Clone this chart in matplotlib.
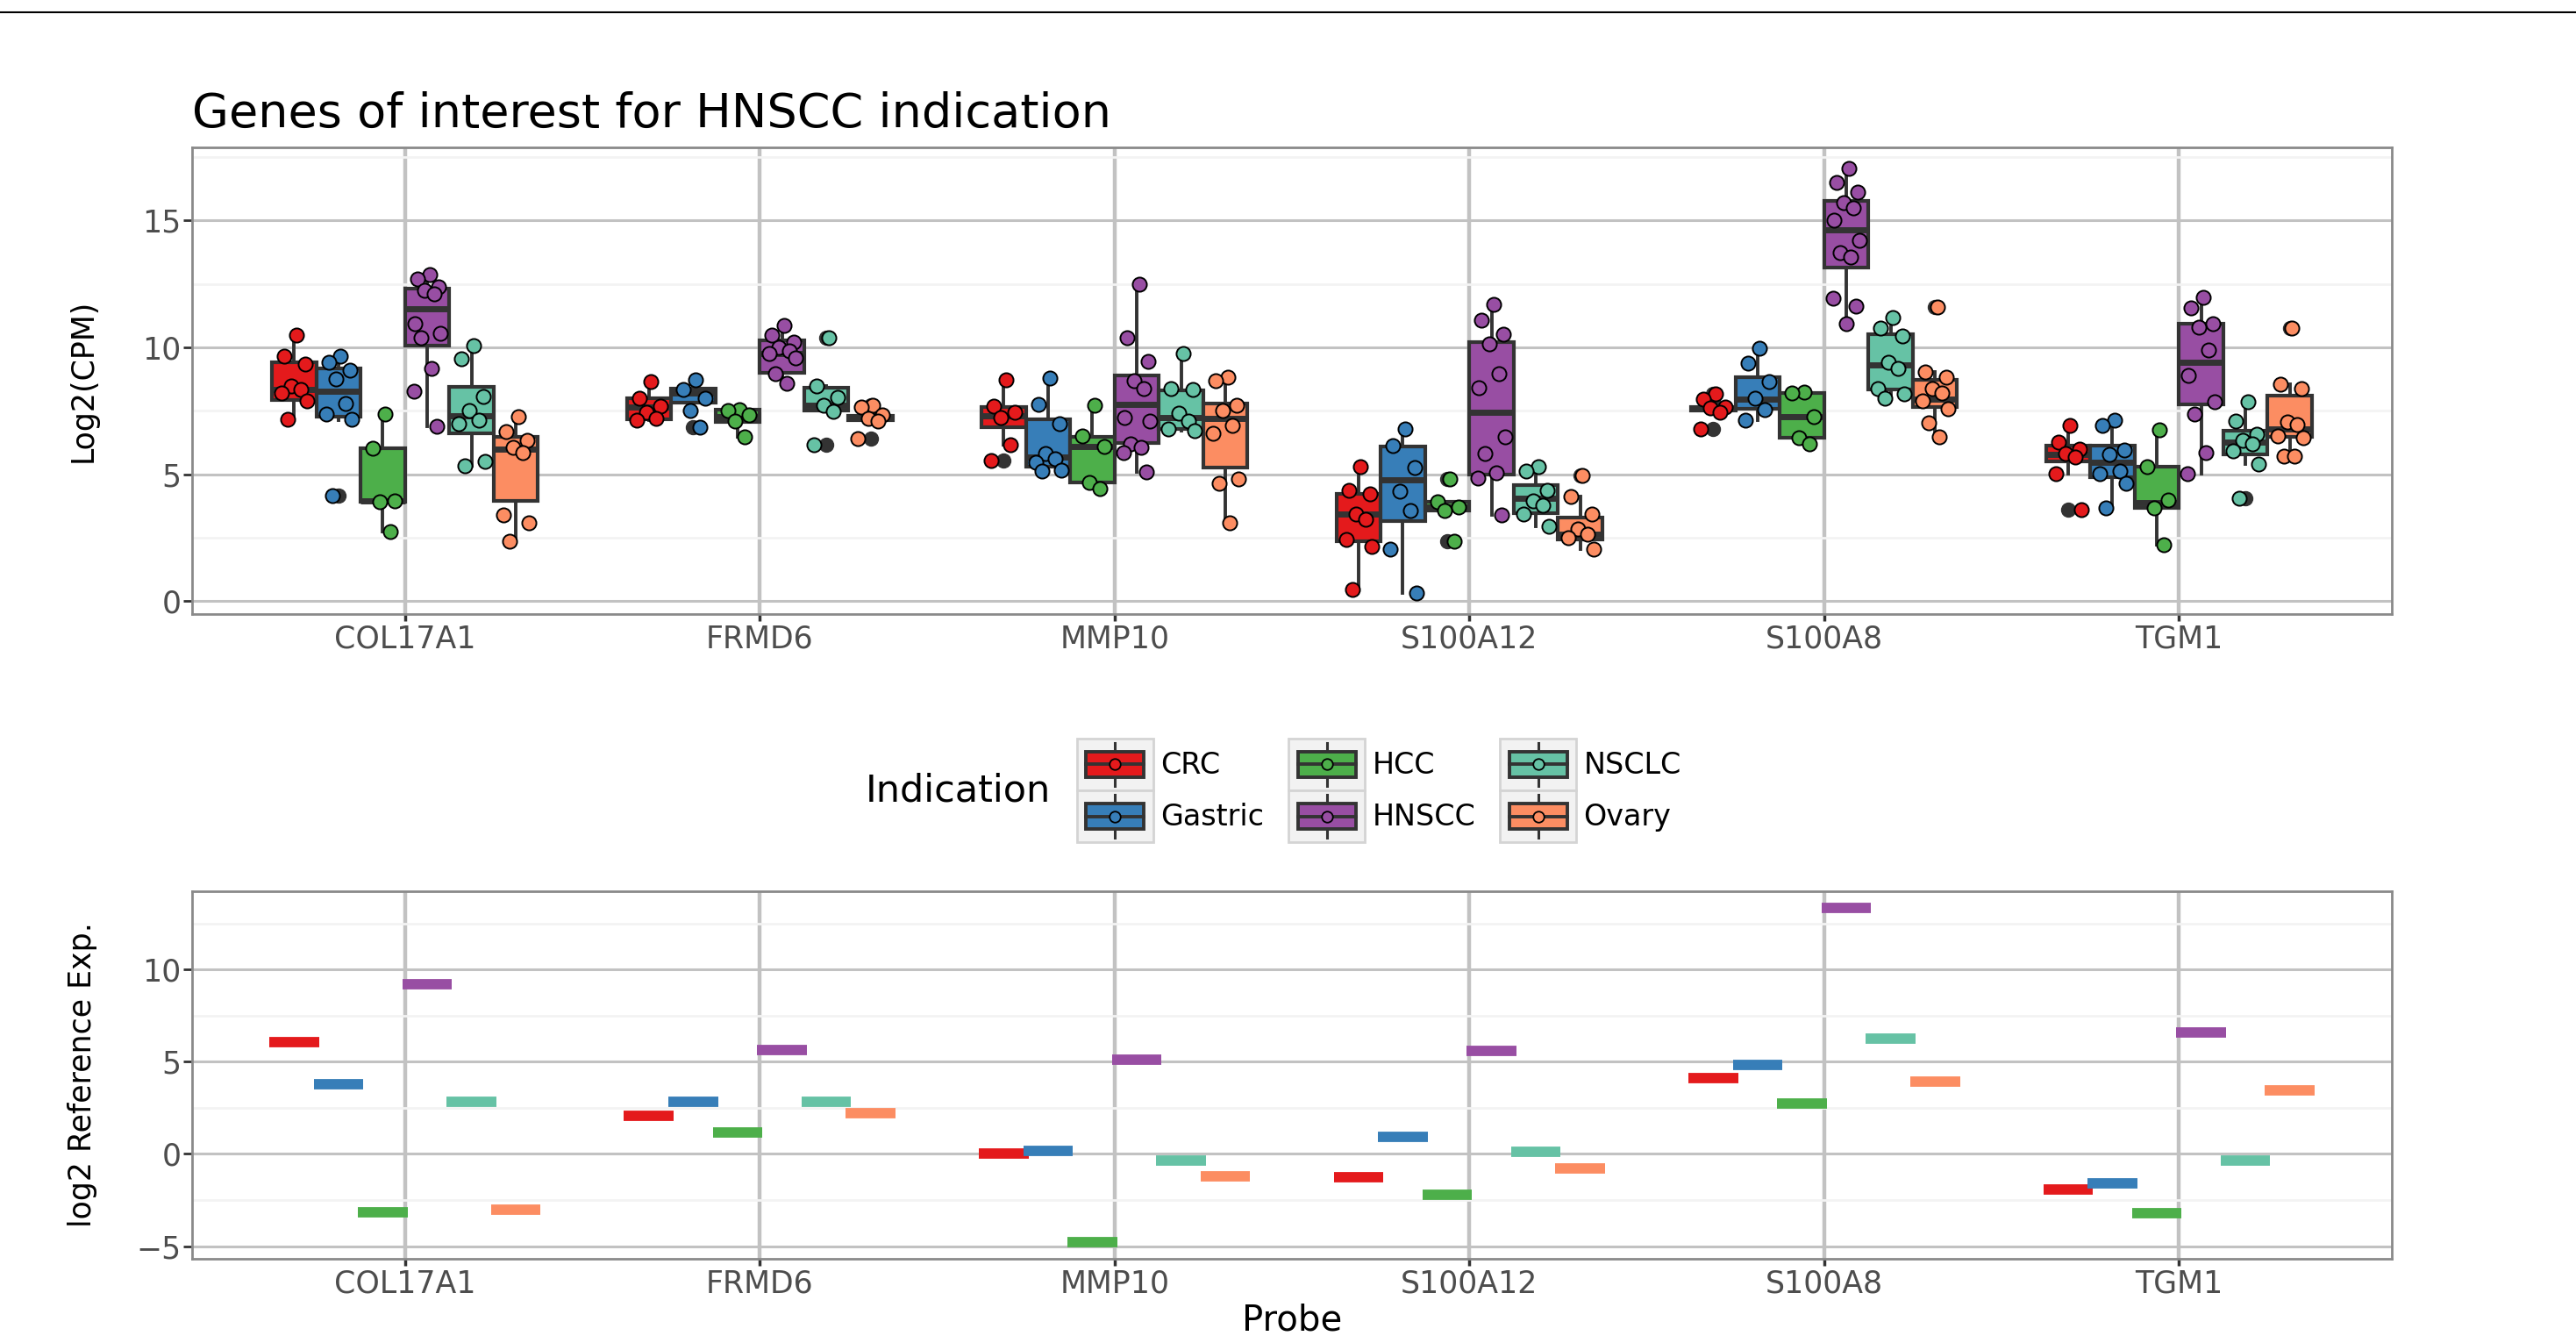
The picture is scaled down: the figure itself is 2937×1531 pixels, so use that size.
import numpy as np
import matplotlib.pyplot as plt
from matplotlib.patches import Rectangle, Patch
from matplotlib.lines import Line2D
from matplotlib.legend_handler import HandlerBase
from matplotlib.ticker import MultipleLocator

genes = ['COL17A1', 'FRMD6', 'MMP10', 'S100A12', 'S100A8', 'TGM1']
indications = ['CRC', 'Gastric', 'HCC', 'HNSCC', 'NSCLC', 'Ovary']
colors = ['#E41A1C', '#377EB8', '#4DAF4A', '#984EA3', '#66C2A5', '#FC8D62']

# box stats per gene: (q1, median, q3, whisker low, whisker high)
crc_box = [(7.94, 8.34, 9.41, 7.18, 10.47), (7.18, 7.64, 7.98, 7.14, 8.64),
           (6.86, 7.29, 7.64, 6.17, 8.71), (2.35, 3.43, 4.24, 0.46, 5.31),
           (7.50, 7.60, 7.66, 7.43, 7.70), (5.49, 5.80, 6.13, 5.01, 6.92)]
gastric_box = [(7.27, 8.26, 9.18, 7.14, 9.64), (7.81, 8.20, 8.38, 7.52, 8.72),
               (5.30, 5.69, 7.15, 5.14, 8.79), (3.16, 4.78, 6.09, 0.33, 6.79),
               (7.58, 7.95, 8.83, 7.14, 9.97), (4.90, 5.47, 6.13, 3.69, 7.14)]
hcc_box = [(3.90, 3.94, 6.02, 2.73, 7.38), (7.06, 7.26, 7.55, 6.49, 7.55),
           (4.68, 6.09, 6.48, 4.45, 7.71), (3.56, 3.72, 3.91, 3.56, 3.91),
           (6.43, 7.26, 8.21, 6.19, 8.24), (3.69, 3.89, 5.30, 2.24, 6.75)]
hnscc_box = [(10.05, 11.53, 12.31, 6.90, 12.85), (8.98, 9.76, 10.28, 8.56, 10.87),
             (6.22, 7.75, 8.89, 5.10, 12.49), (5.00, 7.44, 10.21, 3.40, 11.69),
             (13.14, 14.62, 15.77, 10.94, 17.04), (7.75, 9.41, 10.94, 5.03, 11.96)]
nsclc_box = [(6.61, 7.31, 8.43, 5.34, 10.05), (7.52, 7.72, 8.41, 7.49, 8.47),
             (6.79, 7.25, 8.30, 6.72, 9.75), (3.47, 4.04, 4.57, 2.96, 5.30),
             (8.33, 9.31, 10.51, 8.00, 11.17), (5.80, 6.26, 6.72, 5.40, 7.87)]
ovary_box = [(3.95, 5.99, 6.48, 2.37, 7.27), (7.12, 7.20, 7.30, 7.10, 7.33),
             (5.27, 7.21, 7.77, 3.10, 8.83), (2.44, 2.64, 3.29, 2.04, 4.11),
             (7.64, 7.97, 8.72, 6.48, 9.02), (6.46, 6.79, 8.10, 5.70, 8.56)]

# individual samples per gene
crc_pts = [[10.47, 9.64, 9.35, 8.47, 8.34, 8.19, 7.90, 7.18],
           [8.64, 7.98, 7.67, 7.43, 7.20, 7.14],
           [8.71, 7.70, 7.44, 7.25, 6.17, 5.53],
           [5.31, 4.35, 4.22, 3.43, 3.23, 2.44, 2.15, 0.46],
           [8.18, 7.95, 7.66, 7.60, 7.43, 6.80],
           [6.92, 6.26, 5.99, 5.82, 5.67, 5.01, 3.60]]
gastric_pts = [[9.64, 9.42, 9.09, 8.74, 7.77, 7.38, 7.18, 4.15],
               [8.72, 8.35, 7.98, 7.52, 6.86],
               [8.79, 7.75, 6.98, 5.82, 5.60, 5.47, 5.16, 5.14],
               [6.79, 6.13, 5.27, 4.32, 3.56, 2.04, 0.33],
               [9.97, 9.38, 8.66, 8.00, 7.54, 7.14],
               [7.14, 6.92, 5.95, 5.77, 5.14, 5.01, 4.64, 3.69]]
hcc_pts = [[7.38, 6.02, 3.94, 3.90, 2.73],
           [7.55, 7.50, 7.34, 7.08, 6.49],
           [7.71, 6.52, 6.10, 4.68, 4.45],
           [4.81, 3.91, 3.72, 3.56, 2.37],
           [8.24, 8.21, 7.26, 6.45, 6.19],
           [6.75, 5.31, 3.98, 3.69, 2.24]]
hnscc_pts = [[12.85, 12.71, 12.38, 12.25, 12.12, 10.94, 10.54, 10.38, 9.16, 8.26, 6.90],
             [10.87, 10.47, 10.21, 10.01, 9.85, 9.75, 9.60, 8.96, 8.59],
             [12.49, 10.37, 9.45, 8.70, 8.37, 7.25, 7.11, 6.19, 6.06, 5.86, 5.10],
             [11.69, 11.07, 10.50, 10.14, 8.96, 8.41, 6.48, 5.82, 5.07, 4.84, 3.40],
             [17.04, 16.49, 16.10, 15.70, 15.48, 15.02, 14.23, 13.73, 13.57, 11.92, 11.62, 10.94],
             [11.96, 11.55, 10.94, 10.80, 9.88, 8.89, 7.87, 7.38, 5.86, 5.03]]
nsclc_pts = [[10.05, 9.55, 8.08, 7.51, 7.14, 6.98, 5.49, 5.34],
             [10.38, 8.47, 8.03, 7.72, 7.49, 6.15],
             [9.75, 8.37, 8.33, 7.40, 7.11, 6.79, 6.72],
             [5.30, 5.11, 4.35, 3.95, 3.78, 3.43, 2.96],
             [11.17, 10.76, 10.45, 9.42, 9.16, 8.37, 8.17, 8.00],
             [7.87, 7.11, 6.59, 6.35, 6.19, 5.93, 5.40, 4.04]]
ovary_pts = [[7.27, 6.68, 6.35, 6.06, 5.86, 3.39, 3.10, 2.37],
             [7.72, 7.66, 7.33, 7.20, 7.10, 6.40],
             [8.83, 8.70, 7.71, 7.51, 6.92, 6.61, 4.81, 4.64, 3.10],
             [4.94, 4.11, 3.45, 2.83, 2.64, 2.50, 2.04],
             [11.59, 9.02, 8.83, 8.37, 8.20, 7.90, 7.58, 7.02, 6.48],
             [10.76, 8.56, 8.39, 7.05, 6.95, 6.52, 6.43, 5.73, 5.70]]

# reference expression (log2) per gene
crc_ref = [6.04, 2.08, 0.00, -1.26, 4.11, -1.95]
gastric_ref = [3.77, 2.82, 0.15, 0.90, 4.80, -1.60]
hcc_ref = [-3.18, 1.15, -4.78, -2.21, 2.73, -3.21]
hnscc_ref = [9.19, 5.65, 5.11, 5.58, 13.33, 6.60]
nsclc_ref = [2.82, 2.82, -0.34, 0.10, 6.27, -0.34]
ovary_ref = [-3.03, 2.19, -1.23, -0.77, 3.90, 3.42]

boxes = [crc_box, gastric_box, hcc_box, hnscc_box, nsclc_box, ovary_box]
points = [crc_pts, gastric_pts, hcc_pts, hnscc_pts, nsclc_pts, ovary_pts]
refs = [crc_ref, gastric_ref, hcc_ref, hnscc_ref, nsclc_ref, ovary_ref]

W, H = 2937, 1531
fig = plt.figure(figsize=(W / 100, H / 100), dpi=100)
ax1 = fig.add_axes([219 / W, 1 - 700 / H, 2508 / W, 532 / H])
ax2 = fig.add_axes([219 / W, 1 - 1435 / H, 2508 / W, 419 / H])

dark = '#333333'
n = len(indications)
bw = 0.75 / n
offsets = (np.arange(n) - (n - 1) / 2) * bw
x = np.arange(1, len(genes) + 1)
# fixed horizontal spread of the samples, as a fraction of box width
spread = np.array([0.05, -0.22, 0.26, -0.06, 0.16, -0.28, 0.30, -0.14,
                   0.10, -0.30, 0.22, 0.0])

for i in range(n):
    stats = []
    for g in range(len(genes)):
        q1, med, q3, lo, hi = boxes[i][g]
        p = np.array(points[i][g])
        fl = p[(p < lo - 1e-6) | (p > hi + 1e-6)]
        stats.append(dict(q1=q1, med=med, q3=q3, whislo=lo, whishi=hi, fliers=fl))
    pos = x + offsets[i]
    ax1.bxp(stats, positions=pos, widths=bw, patch_artist=True, showcaps=False,
            manage_ticks=False, zorder=2,
            boxprops=dict(facecolor=colors[i], edgecolor=dark, linewidth=3),
            medianprops=dict(color=dark, linewidth=5, solid_capstyle='butt'),
            whiskerprops=dict(color=dark, linewidth=2.8),
            flierprops=dict(marker='o', markerfacecolor=dark, markeredgecolor=dark,
                            markersize=11.5))
    for g in range(len(genes)):
        p = np.array(points[i][g])
        xs = pos[g] + spread[:len(p)] * bw
        ax1.scatter(xs, p, s=135, c=colors[i], edgecolors='black',
                    linewidths=1.4, zorder=4)

    ax2.hlines(refs[i], x + offsets[i] - 0.07, x + offsets[i] + 0.07,
               colors=colors[i], linewidth=8.5, capstyle='butt', zorder=3)

allp = np.concatenate([np.concatenate(p) for p in points])
span = allp.max() - allp.min()
ax1.set_ylim(allp.min() - 0.05 * span, allp.max() + 0.05 * span)
allr = np.concatenate(refs)
span = allr.max() - allr.min()
ax2.set_ylim(allr.min() - 0.05 * span, allr.max() + 0.05 * span)
ax1.set_yticks([0, 5, 10, 15])
ax2.set_yticks([-5, 0, 5, 10])

for ax in (ax1, ax2):
    ax.set_xlim(0.4, 6.6)
    ax.set_xticks(x)
    ax.set_xticklabels(genes)
    ax.yaxis.set_minor_locator(MultipleLocator(2.5))
    ax.set_axisbelow(True)
    ax.grid(True, which='major', axis='x', color='#C2C2C2', linewidth=3.2)
    ax.grid(True, which='major', axis='y', color='#C2C2C2', linewidth=2.2)
    ax.grid(True, which='minor', axis='y', color='#F3F3F3', linewidth=2)
    ax.tick_params(which='minor', length=0)
    ax.tick_params(axis='x', length=6, width=2.5, color=dark, pad=2,
                   labelsize=25, labelcolor='#4D4D4D')
    ax.tick_params(axis='y', length=7, width=2, color=dark, pad=2,
                   labelsize=25, labelcolor='#4D4D4D')
    for s in ax.spines.values():
        s.set_color('#8A8A8A')
        s.set_linewidth(2)

ax1.set_ylabel('Log2(CPM)', fontsize=25)
ax2.set_ylabel('log2 Reference Exp.', fontsize=25)
ax1.yaxis.set_label_coords(-0.043, 0.5)
ax2.yaxis.set_label_coords(-0.043, 0.5)
ax2.set_xlabel('Probe', fontsize=29, va='center')
ax2.xaxis.set_label_coords(0.5, -0.169)

fig.text(219 / W, 1 - 145 / H, 'Genes of interest for HNSCC indication',
         fontsize=39, ha='left', va='baseline')
fig.add_artist(Line2D([0, 1], [1 - 14 / H, 1 - 14 / H], color='black',
                      linewidth=1.5, transform=fig.transFigure))


class BoxKey(HandlerBase):
    def create_artists(self, legend, orig_handle, xdescent, ydescent,
                       width, height, fontsize, trans):
        c = orig_handle.get_facecolor()
        x0, y0 = -xdescent, -ydescent
        cx, cy = x0 + width / 2, y0 + height / 2
        bg = Rectangle((x0, y0), width, height, facecolor='#F2F2F2',
                       edgecolor='#D4D4D4', linewidth=2, transform=trans)
        wl = Line2D([cx, cx], [y0 + 0.08 * height, y0 + 0.92 * height],
                    color=dark, linewidth=2.2, transform=trans)
        box = Rectangle((x0 + 0.12 * width, y0 + 0.25 * height), 0.76 * width,
                        0.5 * height, facecolor=c, edgecolor=dark,
                        linewidth=2.8, transform=trans)
        md = Line2D([x0 + 0.12 * width, x0 + 0.88 * width], [cy, cy],
                    color=dark, linewidth=2.8, transform=trans)
        pt = Line2D([cx], [cy], marker='o', markersize=9, markerfacecolor=c,
                    markeredgecolor='black', markeredgewidth=1.3,
                    linestyle='none', transform=trans)
        return [bg, wl, box, md, pt]


handles = [Patch(facecolor=c) for c in colors]
fig.legend(handles, indications, ncol=3, loc='center left',
           bbox_to_anchor=(1228 / W, 1 - 901 / H), frameon=False,
           borderpad=0, borderaxespad=0, handlelength=2.6, handleheight=2.35,
           handletextpad=0.25, columnspacing=0.85, labelspacing=0,
           fontsize=24, handler_map={Patch: BoxKey()})
fig.text(987 / W, 1 - 901 / H, 'Indication', fontsize=31, ha='left', va='center')

plt.savefig('out.png', dpi=100)
